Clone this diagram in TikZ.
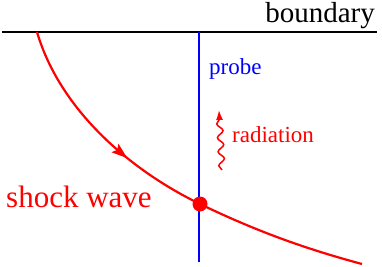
\documentclass[tikz,border=0pt]{standalone}
\usepackage{fontspec}
\setmainfont{Liberation Serif}
\usetikzlibrary{arrows.meta,decorations.pathmorphing,decorations.markings}

\begin{document}
\begin{tikzpicture}[x=1pt,y=-1pt,>=Latex]
\tikzstyle{lbl}=[inner sep=0pt, anchor=base west]
\tikzstyle{shock}=[red, line width=2.2pt]
\tikzstyle{hitdot}=[circle, fill=red, inner sep=0pt, minimum size=15pt]
\useasboundingbox (0,0) rectangle (382,267);
\coordinate (bl) at (2,32);
\coordinate (br) at (377,32);
\coordinate (ptop) at (199,32);
\coordinate (pbot) at (199,262);
\coordinate (s0) at (37,32);
\coordinate (s1) at (362,264);
\coordinate (x) at (200,204);
\coordinate (r0) at (222,170);
\coordinate (r1) at (219,110);
\node[lbl, anchor=base east, text height=19pt, font=\fontsize{29}{29}\selectfont] (bnd) at (375,22.5) {boundary};
\node[lbl, blue, font=\fontsize{23}{23}\selectfont] (prb) at (209,75) {probe};
\node[lbl, red, font=\fontsize{23}{23}\selectfont] (rad) at (232,142) {radiation};
\node[lbl, red, font=\fontsize{31}{31}\selectfont] (shk) at (6,207) {shock wave};
\draw[line width=1.5pt] (bl) -- (br);
\draw[blue, line width=1.2pt] (ptop) -- (pbot);
% arrow head drawn as a filled triangle along the curve
\draw[shock, postaction={decorate}, decoration={markings, mark=at position 0.63 with {\fill[red] (4pt,0pt) -- (-12pt,5.5pt) -- (-9pt,0pt) -- (-12pt,-5.5pt) -- cycle;}}] (s0) .. controls (60,110) and (130,170) .. (x);
\draw[shock] (x) .. controls (260,233) and (310,250) .. (s1);
\draw[red, line width=1.5pt, -{Latex[length=10pt,width=7pt]}, decorate, decoration={snake, amplitude=3pt, segment length=14pt, post length=9pt}] (r0) -- (r1);
\node[hitdot] (hit) at (x) {};
\end{tikzpicture}
\end{document}
